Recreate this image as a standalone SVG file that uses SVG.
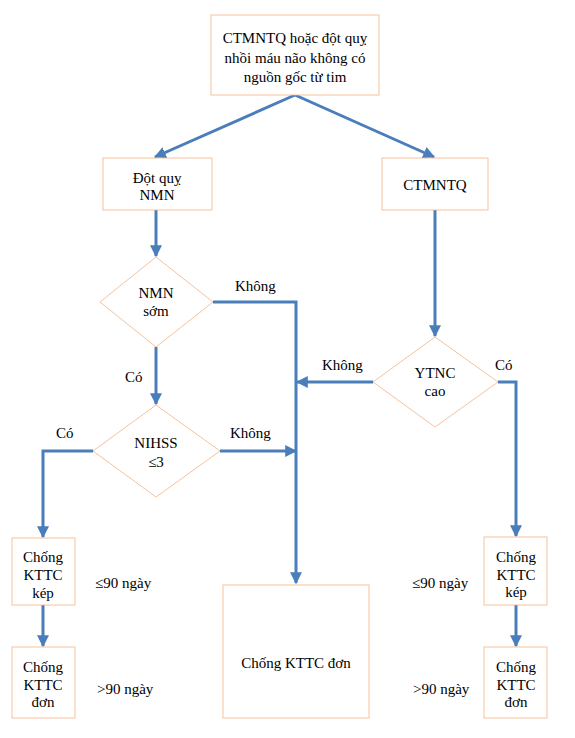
<svg xmlns="http://www.w3.org/2000/svg" width="575" height="738" viewBox="0 0 575 738">
<style>
.box{fill:#fff;stroke:#F4B183;stroke-width:1;stroke-opacity:0.8}
text{font-family:'Liberation Serif','Times New Roman','DejaVu Serif',serif;font-size:15px;fill:#000}
.t{text-anchor:middle}
.c{fill:none;stroke:#4A7EBB;stroke-width:3}
</style>
<defs>
<marker id="ah" viewBox="0 0 10 10" refX="9" refY="5" markerWidth="4" markerHeight="4" orient="auto" markerUnits="strokeWidth">
<path d="M0,0 L10,5 L0,10 z" fill="#4A7EBB"/>
</marker>
</defs>
<rect width="575" height="738" fill="#fff"/>
<g id="connectors">
<path class="c" d="M295,95 L155,157" marker-end="url(#ah)"/>
<path class="c" d="M295,95 L434,157" marker-end="url(#ah)"/>
<path class="c" d="M156,210 L156,256" marker-end="url(#ah)"/>
<path class="c" d="M435,210 L435,336" marker-end="url(#ah)"/>
<path class="c" d="M213,302 L296,302 L296,583" marker-end="url(#ah)"/>
<path class="c" d="M156,347 L156,404" marker-end="url(#ah)"/>
<path class="c" d="M373,382 L297,382" marker-end="url(#ah)"/>
<path class="c" d="M220,451 L296,451" marker-end="url(#ah)"/>
<path class="c" d="M93,451 L43,451 L43,537" marker-end="url(#ah)"/>
<path class="c" d="M498,382 L516,382 L516,536" marker-end="url(#ah)"/>
<path class="c" d="M43,605 L43,646" marker-end="url(#ah)"/>
<path class="c" d="M516,605 L516,646" marker-end="url(#ah)"/>
</g>
<g id="labels">
<text x="235" y="291">Không</text>
<text x="322" y="370">Không</text>
<text x="495" y="370">Có</text>
<text x="125" y="382">Có</text>
<text x="56" y="438">Có</text>
<text x="230" y="438">Không</text>
<text x="95" y="588">≤90 ngày</text>
<text x="97" y="694">&gt;90 ngày</text>
<text x="412" y="588">≤90 ngày</text>
<text x="413" y="694">&gt;90 ngày</text>
</g>
<g id="start">
<rect class="box" x="211" y="15" width="168" height="80"/>
<text class="t" x="295" y="43">CTMNTQ hoặc đột quỵ</text>
<text class="t" x="295" y="63">nhồi máu não không có</text>
<text class="t" x="295" y="82">nguồn gốc từ tim</text>
</g>
<g id="dotquy">
<rect class="box" x="103" y="158" width="109" height="52"/>
<text class="t" x="157" y="183">Đột quỵ</text>
<text class="t" x="157" y="200">NMN</text>
</g>
<g id="ctmntq">
<rect class="box" x="382" y="158" width="106" height="52"/>
<text class="t" x="435" y="190">CTMNTQ</text>
</g>
<g id="nmnsom">
<polygon class="box" points="156,257 213,302 156,347 100,302"/>
<text class="t" x="156" y="298">NMN</text>
<text class="t" x="156" y="316">sớm</text>
</g>
<g id="ytnc">
<polygon class="box" points="435,337 498,382 435,427 373,382"/>
<text class="t" x="435" y="378">YTNC</text>
<text class="t" x="435" y="396">cao</text>
</g>
<g id="nihss">
<polygon class="box" points="156,405 220,451 156,497 93,451"/>
<text class="t" x="156" y="448">NIHSS</text>
<text class="t" x="156" y="467">≤3</text>
</g>
<g id="kep-left">
<rect class="box" x="12" y="538" width="63" height="67"/>
<text class="t" x="43" y="562">Chống</text>
<text class="t" x="43" y="580">KTTC</text>
<text class="t" x="43" y="598">kép</text>
</g>
<g id="don-left">
<rect class="box" x="12" y="647" width="63" height="71"/>
<text class="t" x="43" y="672">Chống</text>
<text class="t" x="43" y="690">KTTC</text>
<text class="t" x="43" y="707">đơn</text>
</g>
<g id="don-center">
<rect class="box" x="223" y="585" width="146" height="133"/>
<text class="t" x="296" y="668">Chống KTTC đơn</text>
</g>
<g id="kep-right">
<rect class="box" x="484" y="537" width="63" height="68"/>
<text class="t" x="516" y="562">Chống</text>
<text class="t" x="516" y="580">KTTC</text>
<text class="t" x="516" y="597">kép</text>
</g>
<g id="don-right">
<rect class="box" x="484" y="647" width="63" height="71"/>
<text class="t" x="516" y="672">Chống</text>
<text class="t" x="516" y="690">KTTC</text>
<text class="t" x="516" y="707">đơn</text>
</g>
</svg>
